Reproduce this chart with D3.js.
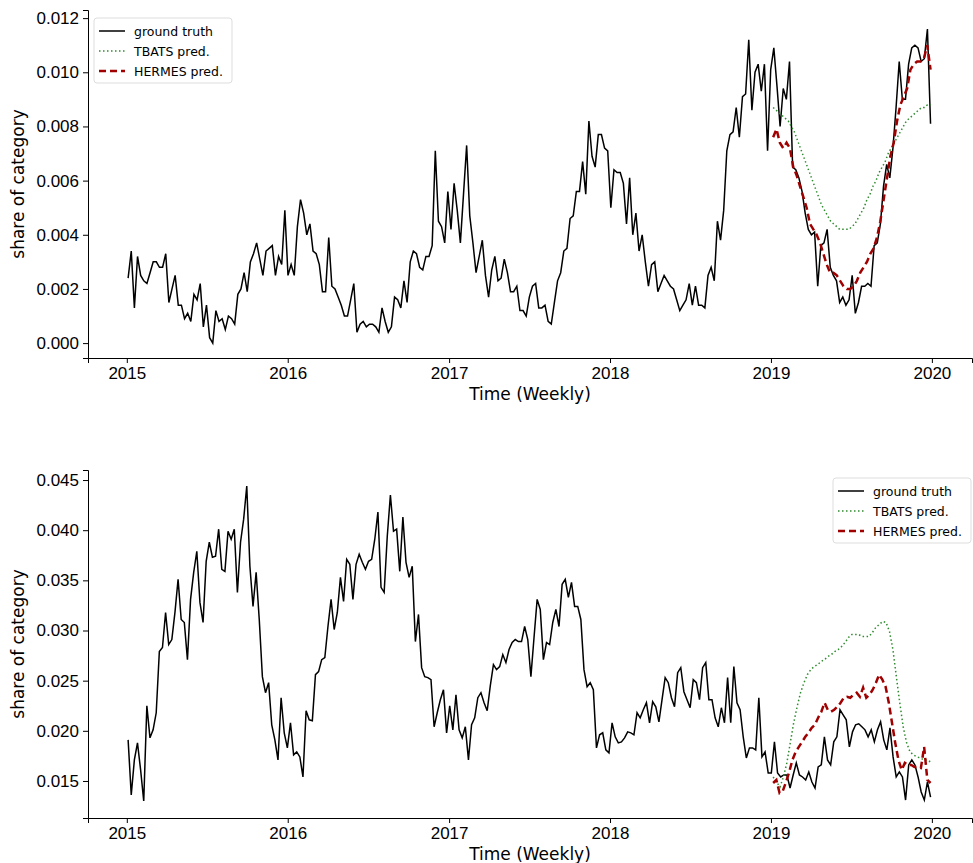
<!DOCTYPE html>
<html>
<head>
<meta charset="utf-8">
<script src="https://cdn.jsdelivr.net/npm/d3@7"></script>
<style>
  body { margin: 0; background: #fff; font-family: "DejaVu Sans", sans-serif; }
  .tick text { font-size: 17px; fill: #000; }
  .axis path, .axis line { stroke: #000; }
</style>
</head>
<body>
<svg id="chart" width="973" height="863"></svg>
<script>
"use strict";

// weekly series, first week 2015-01-04, last week 2019-12-29
var truthTop = [
  0.0024,0.0034,0.0013,0.0032,0.0025,0.0023,0.0022,0.0026,0.0030,0.0030,0.0028,0.0028,0.0033,0.0015,0.0020,0.0025,0.0014,0.0014,0.0009,0.0011,0.0008,0.0018,0.0016,0.0022,0.0006,0.0014,0.0002,0.0000,0.0012,0.0008,0.0009,0.0005,0.0010,0.0009,0.0007,0.0018,0.0020,0.0026,0.0019,0.0030,0.0033,0.0037,0.0031,0.0025,0.0034,0.0035,0.0036,0.0025,0.0032,0.0029,0.0049,0.0025,
  0.0029,0.0025,0.0043,0.0053,0.0048,0.0040,0.0044,0.0034,0.0033,0.0029,0.0019,0.0019,0.0039,0.0021,0.0020,0.0017,0.0014,0.0010,0.0010,0.0016,0.0022,0.0004,0.0007,0.0008,0.0006,0.0007,0.0007,0.0006,0.0004,0.0013,0.0008,0.0004,0.0006,0.0017,0.0016,0.0013,0.0023,0.0015,0.0030,0.0034,0.0033,0.0028,0.0027,0.0032,0.0032,0.0036,0.0071,0.0045,0.0043,0.0037,0.0056,0.0042,0.0059,
  0.0049,0.0037,0.0055,0.0073,0.0047,0.0037,0.0026,0.0032,0.0038,0.0025,0.0017,0.0027,0.0032,0.0023,0.0024,0.0031,0.0026,0.0019,0.0019,0.0021,0.0012,0.0012,0.0010,0.0017,0.0021,0.0022,0.0013,0.0013,
  0.0014,0.0008,0.0007,0.0015,0.0023,0.0026,0.0034,0.0035,0.0046,0.0047,0.0056,0.0056,0.0067,0.0055,0.0082,0.0069,0.0065,0.0077,0.0077,0.0072,
  0.0071,0.0050,0.0064,0.0063,0.0063,0.0059,0.0044,0.0061,0.0040,0.0048,0.0034,0.0040,0.0030,0.0021,0.0029,0.0030,0.0019,0.0022,0.0025,0.0023,0.0021,0.0020,0.0016,0.0012,0.0014,0.0016,0.0022,0.0014,0.0021,0.0014,0.0014,0.0013,0.0025,0.0028,0.0023,0.0045,0.0038,0.0049,0.0071,0.0077,0.0078,0.0087,0.0076,0.0091,0.0092,0.0112,0.0086,0.0100,0.0103,0.0093,0.0103,
  0.0071,0.0101,0.0109,0.0095,0.0080,0.0094,0.0090,0.0104,0.0065,0.0064,0.0061,0.0056,0.0048,0.0042,0.0040,0.0041,0.0021,0.0036,0.0037,0.0042,0.0028,0.0025,0.0023,0.0015,0.0017,0.0014,0.0016,0.0025,0.0011,0.0015,0.0021,0.0021,0.0022,0.0021,0.0036,0.0037,0.0044,0.0058,0.0066,0.0061,0.0072,0.0087,0.0104,0.0090,0.0090,0.0103,0.0109,0.0110,0.0109,0.0104,0.0105,0.0116,0.0081
];
// predictions, first 2019-01-06, last 2019-12-29
var tbatsTop = [
  0.0087,0.0086,0.0085,0.0084,0.0083,0.0082,0.0080,0.0078,0.0075,0.0072,0.0069,0.0066,0.0063,0.0060,0.0057,0.0054,0.0051,0.0049,0.0047,0.0045,0.0044,0.0043,0.0042,0.0042,0.0042,
  0.0042,0.0043,0.0044,0.0046,0.0048,0.0050,0.0053,0.0055,0.0058,0.0060,0.0063,0.0065,0.0067,0.0070,0.0072,0.0074,0.0076,0.0078,0.0080,0.0082,0.0083,0.0084,0.0085,0.0086,0.0087,0.0087,0.0088,0.0088
];
var hermesTop = [
  0.0076,0.0079,0.0074,0.0072,0.0074,0.0072,0.0065,0.0062,0.0058,0.0054,0.0050,0.0044,0.0042,0.0040,0.0037,0.0033,0.0029,0.0026,0.0026,0.0025,0.0023,0.0021,0.0020,0.0020,0.0021,0.0023,0.0026,0.0028,0.0030,0.0033,0.0035,0.0039,0.0045,0.0053,0.0061,0.0069,0.0074,0.0082,0.0088,0.0091,0.0094,0.0101,0.0103,0.0104,0.0104,0.0105,0.0110,0.0101
];

var truthBottom = [
  0.0191,0.0136,0.0171,0.0188,0.0161,0.0130,0.0225,0.0193,0.0201,0.0218,0.0279,0.0283,0.0318,0.0286,0.0291,0.0318,0.0351,0.0311,0.0308,0.0271,0.0331,0.0358,0.0379,0.0328,0.0308,0.0369,0.0388,0.0373,0.0374,0.0401,0.0361,0.0359,0.0399,0.0391,0.0401,0.0338,0.0388,0.0411,0.0444,0.0364,0.0324,0.0358,0.0311,0.0254,0.0238,0.0248,0.0206,0.0191,0.0171,0.0233,0.0198,0.0183,
  0.0208,0.0176,0.0179,0.0174,0.0154,0.0220,0.0211,0.0210,0.0256,0.0259,0.0271,0.0273,0.0304,0.0331,0.0301,0.0318,0.0353,0.0329,0.0371,0.0366,0.0331,0.0366,0.0376,0.0368,0.0361,0.0369,0.0371,0.0391,0.0418,0.0343,0.0338,0.0394,0.0435,0.0399,0.0401,0.0359,0.0413,0.0368,0.0353,0.0364,0.0289,0.0316,0.0263,0.0254,0.0253,0.0251,0.0204,0.0218,0.0231,0.0241,0.0198,0.0225,0.0201,
  0.0236,0.0201,0.0193,0.0204,0.0171,0.0206,0.0213,0.0233,0.0238,0.0228,0.0220,0.0245,0.0266,0.0261,0.0264,0.0276,0.0268,0.0281,0.0288,0.0291,0.0289,0.0289,0.0304,0.0291,0.0254,0.0293,0.0331,0.0321,
  0.0271,0.0288,0.0286,0.0308,0.0321,0.0304,0.0346,0.0351,0.0333,0.0348,0.0324,0.0324,0.0311,0.0261,0.0244,0.0248,0.0241,0.0183,0.0196,0.0198,0.0181,0.0178,0.0208,
  0.0194,0.0188,0.0189,0.0193,0.0199,0.0198,0.0196,0.0218,0.0213,0.0221,0.0228,0.0208,0.0229,0.0224,0.0209,0.0231,0.0253,0.0248,0.0233,0.0224,0.0258,0.0263,0.0239,0.0231,0.0223,0.0251,0.0248,0.0231,0.0263,0.0268,0.0231,0.0231,0.0213,0.0204,0.0223,0.0208,0.0253,0.0208,0.0264,0.0228,0.0221,0.0194,0.0173,0.0183,0.0183,0.0181,0.0233,0.0174,0.0179,0.0158,0.0158,
  0.0189,0.0158,0.0154,0.0156,0.0156,0.0143,0.0156,0.0168,0.0156,0.0154,0.0151,0.0159,0.0149,0.0143,0.0164,0.0166,0.0194,0.0171,0.0166,0.0189,0.0194,0.0221,0.0216,0.0211,0.0184,0.0199,0.0206,0.0207,0.0204,0.0201,0.0194,0.0201,0.0189,0.0201,0.0209,0.0191,0.0181,0.0203,0.0174,0.0154,0.0159,0.0154,0.0131,0.0166,0.0171,0.0166,0.0154,0.0139,0.0131,0.0149,0.0134
];
var tbatsBottom = [
  0.0154,0.0149,0.0144,0.0154,0.0168,0.0188,0.0208,0.0224,0.0238,0.0248,0.0256,0.0261,0.0264,0.0266,0.0269,0.0271,0.0274,0.0276,0.0279,0.0281,0.0284,0.0288,0.0293,0.0296,0.0296,0.0296,0.0294,0.0294,0.0294,0.0298,0.0303,0.0306,0.0309,0.0308,0.0299,0.0281,0.0254,0.0228,0.0204,0.0188,0.0179,0.0176,0.0174,0.0173,0.0171,0.0171,0.0169
];
var hermesBottom = [
  0.0148,0.0151,0.0138,0.0140,0.0149,0.0159,0.0171,0.0179,0.0184,0.0189,0.0194,0.0198,0.0203,0.0206,0.0213,0.0219,0.0228,0.0221,0.0219,0.0221,0.0224,0.0228,0.0233,0.0234,0.0233,0.0236,0.0238,0.0234,0.0243,0.0233,0.0236,0.0241,0.0248,0.0256,0.0251,0.0244,0.0228,0.0208,0.0188,0.0171,0.0161,0.0168,0.0166,0.0166,0.0164,0.0164,0.0163,0.0184,0.0151,0.0148
];

var xTicks = [2015, 2016, 2017, 2018, 2019, 2020];
var yTicksTop = [0, 0.002, 0.004, 0.006, 0.008, 0.010, 0.012];
var yTicksBottom = [0.015, 0.020, 0.025, 0.030, 0.035, 0.040, 0.045];
var seriesNames = ["ground truth", "TBATS pred.", "HERMES pred."];

function WeeklyDates(values, first, last)
{
    var t0 = first.getTime(), t1 = last.getTime();
    return values.map(function(v, i) {
        return { date: new Date(t0 + (t1 - t0) * i / (values.length - 1)), value: v };
    });
}

var svg = d3.select("#chart");

function DrawPanel(top, bottom, yDomain, yTicks, truth, tbats, hermes, legendPos)
{
    const LEFT = 88, RIGHT = 972;

    var x = d3.scaleTime()
        .domain([new Date(2014, 9, 5), new Date(2020, 3, 1)])
        .range([LEFT, RIGHT]);
    var y = d3.scaleLinear().domain(yDomain).range([bottom, top]);

    var g = svg.append("g");

    g.append("g")
        .attr("class", "axis")
        .attr("transform", "translate(0," + bottom + ")")
        .call(d3.axisBottom(x)
            .tickValues(xTicks.map(function(yr) { return new Date(yr, 0, 1); }))
            .tickFormat(d3.timeFormat("%Y"))
            .tickSizeOuter(0).tickSize(5).tickPadding(4));

    g.append("g")
        .attr("class", "axis")
        .attr("transform", "translate(" + LEFT + ",0)")
        .call(d3.axisLeft(y).tickValues(yTicks).tickFormat(d3.format(".3f"))
            .tickSizeOuter(0).tickSize(5).tickPadding(4));

    g.append("text")
        .attr("x", (LEFT + RIGHT) / 2).attr("y", bottom + 42)
        .attr("text-anchor", "middle").attr("font-size", 17)
        .text("Time (Weekly)");

    g.append("text")
        .attr("transform", "translate(24," + ((top + bottom) / 2) + ") rotate(-90)")
        .attr("text-anchor", "middle").attr("font-size", 17)
        .text("share of category");

    var line = d3.line()
        .x(function(d) { return x(d.date); })
        .y(function(d) { return y(d.value); });

    var predFirst = new Date(2019, 0, 6), predLast = new Date(2019, 11, 29);

    g.append("path")
        .datum(WeeklyDates(truth, new Date(2015, 0, 4), new Date(2019, 11, 29)))
        .attr("d", line).attr("fill", "none")
        .attr("stroke", "#000").attr("stroke-width", 1.5);

    g.append("path")
        .datum(WeeklyDates(tbats, predFirst, predLast))
        .attr("d", line).attr("fill", "none")
        .attr("stroke", "#2e8b2e").attr("stroke-width", 1.5)
        .attr("stroke-dasharray", "1.5,2.5");

    g.append("path")
        .datum(WeeklyDates(hermes, predFirst, predLast))
        .attr("d", line).attr("fill", "none")
        .attr("stroke", "#a00000").attr("stroke-width", 2.5)
        .attr("stroke-dasharray", "7,4");

    // Legend
    var lg = g.append("g").attr("transform", "translate(" + legendPos[0] + "," + legendPos[1] + ")");
    lg.append("rect")
        .attr("width", 138).attr("height", 65).attr("rx", 3)
        .attr("fill", "#fff").attr("stroke", "#ddd");
    var styles = [
        { color: "#000", width: 1.5, dash: null },
        { color: "#2e8b2e", width: 1.5, dash: "1.5,2.5" },
        { color: "#a00000", width: 2.5, dash: "7,4" }
    ];
    seriesNames.forEach(function(name, i) {
        var cy = 13 + i * 20;
        lg.append("line")
            .attr("x1", 5).attr("x2", 31).attr("y1", cy).attr("y2", cy)
            .attr("stroke", styles[i].color).attr("stroke-width", styles[i].width)
            .attr("stroke-dasharray", styles[i].dash);
        lg.append("text")
            .attr("x", 40).attr("y", cy + 4.5)
            .attr("font-size", 12.5).text(name);
    });
}

DrawPanel(10, 358, [-0.00055, 0.0123], yTicksTop, truthTop, tbatsTop, hermesTop, [94, 18]);
DrawPanel(470, 818, [0.01131, 0.046], yTicksBottom, truthBottom, tbatsBottom, hermesBottom, [833, 478]);
</script>
</body>
</html>
